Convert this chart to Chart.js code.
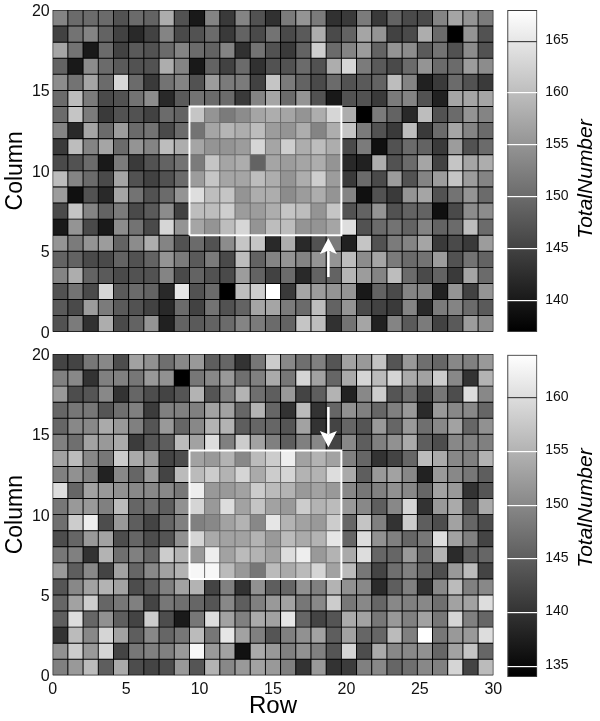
<!DOCTYPE html>
<html>
<head>
<meta charset="utf-8">
<title>TotalNumber maps</title>
<script src="https://cdn.jsdelivr.net/npm/chart.js@4"></script>
<style>
  body { margin: 0; background: #fff; }
  canvas { position: absolute; }
</style>
</head>
<body>
<canvas id="topMap" width="510" height="345" style="left:0;top:0"></canvas>
<canvas id="topBar" width="105" height="345" style="left:495px;top:0"></canvas>
<canvas id="bottomMap" width="510" height="376" style="left:0;top:345px"></canvas>
<canvas id="bottomBar" width="105" height="345" style="left:495px;top:345px"></canvas>
<script>
// rows go from the top of the plot (row 19) down to row 0, 29 cells each
const topCounts = [
  [153,150,150,150,147,150,149,158,147,140,153,144,153,147,143,152,155,152,143,144,152,144,149,146,146,153,157,155,152],
  [145,151,153,149,145,142,145,153,146,147,150,144,149,146,151,146,148,158,146,149,157,155,145,146,158,150,137,155,147],
  [157,151,140,150,145,148,147,150,153,150,149,153,143,151,147,144,149,162,150,153,156,149,155,154,148,151,147,154,147],
  [149,140,154,150,148,147,147,158,153,140,149,145,150,143,147,147,150,147,158,163,152,148,146,150,155,150,150,156,154],
  [154,151,157,150,163,150,144,151,153,147,156,152,152,145,161,152,149,146,150,147,148,149,160,153,141,144,150,147,144],
  [150,160,152,146,147,151,154,142,148,151,150,150,144,153,157,150,155,147,140,147,147,144,152,153,147,141,157,157,157],
  [150,161,152,144,147,147,145,150,149,161,155,152,154,157,158,157,155,158,163,158,137,152,149,142,160,147,150,155,153],
  [153,142,157,150,156,150,151,146,150,151,157,159,158,160,156,155,158,153,158,161,152,147,144,160,144,150,157,153,150],
  [144,160,153,157,150,155,153,160,158,157,155,155,156,163,157,162,158,160,158,146,152,139,147,150,149,144,156,147,150],
  [146,147,150,140,152,144,147,149,151,152,161,157,158,149,157,156,157,158,155,142,141,158,147,150,157,145,161,157,158],
  [160,153,150,146,157,147,145,147,150,156,161,157,157,160,158,155,158,162,156,144,150,146,156,147,153,156,161,156,153],
  [156,139,147,142,157,151,147,150,155,164,160,161,155,158,158,154,156,158,155,153,139,147,144,155,157,147,151,155,150],
  [146,161,153,149,152,146,148,154,145,160,160,162,156,156,158,161,160,155,161,147,149,155,147,149,149,139,146,154,154],
  [140,155,146,140,154,151,146,163,155,157,155,160,163,155,160,160,155,155,157,164,147,150,151,149,153,149,150,160,150],
  [155,152,155,156,149,154,158,153,147,150,147,154,161,161,142,158,142,147,152,141,161,147,152,153,157,144,146,144,156],
  [149,149,146,146,149,147,149,155,152,148,152,146,160,149,153,155,153,155,155,160,154,157,152,150,151,156,147,151,149],
  [153,158,149,148,146,147,147,153,146,149,147,146,156,149,145,150,142,149,149,159,156,153,160,150,146,149,144,157,150],
  [147,151,146,163,148,150,149,142,165,147,150,137,160,162,168,144,157,156,155,155,140,149,146,153,153,141,155,145,155],
  [148,146,156,152,148,147,145,142,150,145,151,147,149,157,157,152,150,160,149,155,146,145,144,153,142,152,153,150,148],
  [147,152,143,158,146,149,155,141,149,148,149,150,153,152,150,149,161,160,143,151,157,141,153,148,152,145,148,156,154]
];
const bottomCounts = [
  [142,142,148,150,143,153,151,147,150,152,145,146,140,148,158,150,147,149,144,153,152,157,144,152,147,146,150,149,152],
  [149,150,140,149,149,148,152,151,134,148,150,152,147,149,154,148,159,153,146,154,159,156,159,154,153,158,150,140,155],
  [152,143,144,150,140,146,143,142,144,155,144,149,155,147,145,152,142,145,155,138,150,158,144,147,142,148,143,160,150],
  [146,148,148,144,147,149,141,149,149,149,153,153,146,155,146,140,156,140,146,151,149,146,149,152,139,152,150,150,146],
  [146,150,150,154,152,149,144,152,146,150,155,155,145,146,146,144,153,140,142,146,144,152,146,152,147,150,153,146,151],
  [149,147,153,152,154,141,144,145,156,153,160,149,158,153,149,145,149,150,142,150,145,149,151,154,145,143,150,149,149],
  [153,156,150,148,158,154,152,142,143,153,152,155,150,156,158,162,153,155,153,149,146,140,142,146,156,154,150,149,155],
  [149,151,149,138,150,146,152,142,156,156,158,155,159,154,158,159,155,155,160,154,145,152,153,150,138,152,150,148,145],
  [160,146,153,152,151,150,150,150,148,162,152,152,153,158,156,155,152,153,152,150,148,149,151,150,146,153,152,140,144],
  [148,152,152,149,156,146,147,145,151,159,152,160,153,157,153,152,158,155,156,152,150,145,150,159,140,152,154,144,154],
  [147,158,162,143,152,145,142,146,149,149,150,153,155,150,161,155,153,152,158,146,157,149,140,158,145,143,153,146,143],
  [143,146,152,153,143,146,143,144,151,159,154,153,153,155,152,156,154,155,161,146,160,151,149,146,148,160,153,149,142],
  [148,149,140,155,147,149,146,158,155,152,162,153,156,155,153,160,162,152,155,154,160,146,146,152,146,155,139,145,146],
  [152,145,150,142,153,146,150,153,155,163,163,156,152,148,156,154,156,159,153,156,148,142,147,149,146,143,152,156,142],
  [144,150,153,155,153,143,145,149,153,155,142,149,140,151,145,146,151,149,155,151,150,139,145,149,140,150,156,149,150],
  [146,153,158,146,148,149,142,148,147,146,144,150,145,149,152,153,148,150,158,148,150,146,150,149,150,147,153,153,160],
  [145,160,146,151,145,142,158,143,137,148,160,153,149,154,153,161,146,142,144,154,153,148,152,149,153,148,159,149,146],
  [140,156,150,159,153,145,150,146,148,156,148,161,153,149,144,149,151,153,145,153,146,146,156,149,164,148,152,152,160],
  [151,158,152,159,142,148,149,149,152,163,152,153,136,154,152,149,151,149,144,159,143,154,150,150,151,146,153,157,146],
  [149,152,156,145,154,143,142,143,152,144,155,150,152,153,152,149,140,152,140,141,149,150,146,147,150,149,159,142,156]
];
const rowTicks = [0, 5, 10, 15, 20, 25, 30];
const columnTicks = [0, 5, 10, 15, 20];
const topRange = [137, 168];
const bottomRange = [134, 164];
const topBarTicks = [140, 145, 150, 155, 160, 165];
const bottomBarTicks = [135, 140, 145, 150, 155, 160];
const boxRow = [9, 19];     // cells
const boxColumn = [6, 14];
const topArrow = [3.4, 4.83, 5.03, 5.83];       // tail, head base, notch, tip
const bottomArrow = [16.7, 15.2, 15.0, 14.2];
const arrowRow = 18.77;

const FONT = '"Liberation Sans", Arial, sans-serif';
const binWidth = 30 / 29;
const BOX_EDGE = '#6e6e6e';

function grey(v, range) {
  const g = Math.round(255 * (v - range[0]) / (range[1] - range[0]));
  return `rgb(${g},${g},${g})`;
}

function inBox(i, j) {
  return i >= boxRow[0] && i < boxRow[1] && j >= boxColumn[0] && j < boxColumn[1];
}

// tick labels must not push the plot area in, the frames are placed by hand
function noLabelPadding(s) {
  s.paddingLeft = s.paddingRight = s.paddingTop = s.paddingBottom = 0;
}

// dark backing so the antialiased seams between cells stay dark
const cellBacking = {
  id: 'cellBacking',
  beforeDatasetsDraw(chart) {
    const { ctx, chartArea: a, scales: { x, y } } = chart;
    ctx.save();
    ctx.fillStyle = '#000';
    ctx.fillRect(a.left, a.top, a.right - a.left, a.bottom - a.top);
    const bx = x.getPixelForValue(boxRow[0] * binWidth);
    const by = y.getPixelForValue(boxColumn[1]);
    ctx.fillStyle = BOX_EDGE;
    ctx.fillRect(bx, by, x.getPixelForValue(boxRow[1] * binWidth) - bx, y.getPixelForValue(boxColumn[0]) - by);
    ctx.restore();
  }
};

function makeMap(id, counts, range, arrow, opts) {
  const cells = [], fills = [], edges = [];
  counts.forEach((row, r) => {
    row.forEach((v, i) => {
      const j = 19 - r;
      cells.push({ x: (i + 0.5) * binWidth, y: [j, j + 1] });
      fills.push(grey(v, range));
      edges.push(inBox(i, j) ? BOX_EDGE : '#000');
    });
  });

  const x0 = boxRow[0] * binWidth, x1 = boxRow[1] * binWidth;
  const lineBase = { type: 'line', pointRadius: 0, borderColor: '#fff', tension: 0, order: 1 };

  new Chart(document.getElementById(id), {
    type: 'bar',
    plugins: [cellBacking],
    data: {
      datasets: [
        {
          data: cells,
          backgroundColor: fills,
          borderColor: edges,
          borderWidth: 0.8,
          borderSkipped: false,
          barPercentage: 1,
          categoryPercentage: 1,
          order: 2
        },
        {
          ...lineBase,
          borderWidth: 2,
          data: [
            { x: x0, y: boxColumn[0] }, { x: x1, y: boxColumn[0] },
            { x: x1, y: boxColumn[1] }, { x: x0, y: boxColumn[1] },
            { x: x0, y: boxColumn[0] }
          ]
        },
        {
          ...lineBase,
          borderWidth: 2.5,
          data: [{ x: arrowRow, y: arrow[0] }, { x: arrowRow, y: arrow[2] }]
        },
        {
          ...lineBase,
          borderWidth: 0,
          backgroundColor: '#fff',
          fill: 'shape',
          data: [
            { x: arrowRow - 0.58, y: arrow[1] }, { x: arrowRow, y: arrow[3] },
            { x: arrowRow + 0.58, y: arrow[1] }, { x: arrowRow, y: arrow[2] }
          ]
        }
      ]
    },
    options: {
      responsive: false,
      animation: false,
      layout: { padding: opts.padding },
      plugins: { legend: { display: false }, tooltip: { enabled: false } },
      scales: {
        x: {
          type: 'linear',
          offset: false,
          min: 0,
          max: 30,
          grid: { display: false, offset: false, drawTicks: false },
          border: { display: false },
          afterFit(s) { s.height = opts.xHeight; noLabelPadding(s); },
          afterBuildTicks(s) { s.ticks = rowTicks.map(v => ({ value: v })); },
          ticks: {
            display: opts.showRow,
            maxRotation: 0,
            autoSkip: false,
            padding: 5,
            color: '#111',
            font: { family: FONT, size: 16 }
          },
          title: {
            display: opts.showRow,
            text: 'Row',
            color: '#000',
            padding: { top: 0, bottom: 0 },
            font: { family: FONT, size: 24 }
          }
        },
        y: {
          min: 0,
          max: 20,
          grid: { display: false, drawTicks: false },
          border: { display: false },
          afterFit(s) { s.width = 52.7; noLabelPadding(s); },
          afterBuildTicks(s) { s.ticks = columnTicks.map(v => ({ value: v })); },
          ticks: {
            padding: 3,
            labelOffset: 1.5,
            color: '#111',
            font: { family: FONT, size: 16 }
          },
          title: {
            display: true,
            text: 'Column',
            color: '#000',
            padding: { top: 2, bottom: 0 },
            font: { family: FONT, size: 23 }
          }
        }
      }
    }
  });
}

function makeBar(id, range, tickValues, darkTick, labelY, padding) {
  // label sits off centre of the bar in the reference, scale title can't do that
  const sideLabel = {
    id: 'sideLabel',
    afterDraw(chart) {
      const c = chart.ctx;
      c.save();
      c.translate(91, labelY);
      c.rotate(-Math.PI / 2);
      c.font = `italic 21px ${FONT}`;
      c.fillStyle = '#000';
      c.textAlign = 'center';
      c.textBaseline = 'middle';
      c.fillText('TotalNumber', 0, 0);
      c.restore();
    }
  };

  new Chart(document.getElementById(id), {
    type: 'bar',
    plugins: [sideLabel],
    data: {
      labels: [''],
      datasets: [{
        data: [range],
        barPercentage: 1,
        categoryPercentage: 1,
        borderWidth: 1.3,
        borderColor: '#3c3c3c',
        borderSkipped: false,
        backgroundColor(ctx) {
          const area = ctx.chart.chartArea;
          if (!area) return '#888';
          const g = ctx.chart.ctx.createLinearGradient(0, area.top, 0, area.bottom);
          g.addColorStop(0, '#fff');
          g.addColorStop(1, '#000');
          return g;
        }
      }]
    },
    options: {
      responsive: false,
      animation: false,
      layout: { padding },
      plugins: { legend: { display: false }, tooltip: { enabled: false } },
      scales: {
        x: { display: false },
        y: {
          position: 'right',
          min: range[0],
          max: range[1],
          afterFit(s) { s.width = 62.7; noLabelPadding(s); },
          afterBuildTicks(s) { s.ticks = tickValues.map(v => ({ value: v })); },
          border: { display: false },
          grid: {
            z: 1,
            drawTicks: false,
            lineWidth: 1.2,
            color: c => (c.tick && c.tick.value === darkTick ? '#444' : '#fff')
          },
          ticks: {
            padding: 8,
            labelOffset: -1,
            color: '#111',
            font: { family: FONT, size: 14 }
          }
        }
      }
    }
  });
}

makeMap('topMap', topCounts, topRange, topArrow, {
  padding: { left: 0, right: 16.7, top: 10, bottom: 13.3 },
  xHeight: 0,
  showRow: false
});
makeMap('bottomMap', bottomCounts, bottomRange, bottomArrow, {
  padding: { left: 0, right: 16.7, top: 9, bottom: 0 },
  xHeight: 45.7,
  showRow: true
});
makeBar('topBar', topRange, topBarTicks, 165, 179, { left: 12.3, top: 10, bottom: 13 });
makeBar('bottomBar', bottomRange, bottomBarTicks, 160, 163, { left: 12.3, top: 9.7, bottom: 13 });
</script>
</body>
</html>
